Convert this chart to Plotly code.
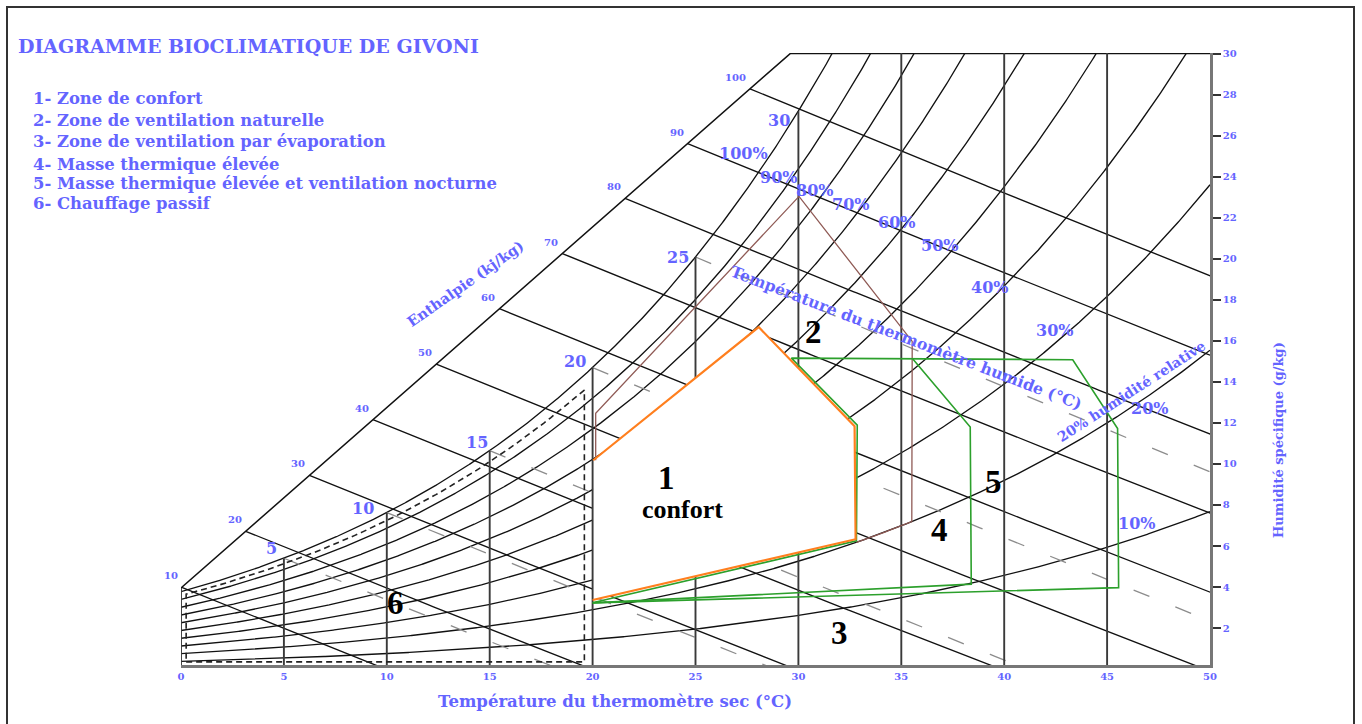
import numpy as np
import plotly.graph_objects as go

# ------------------------------------------------------------------ data
# saturation vapour pressure (kPa) at 0..50 degC (psychrometric table)
SAT_T = list(range(0, 51))
SAT_P = [0.6112, 0.6571, 0.7060, 0.7581, 0.8135, 0.8725, 0.9353, 1.0020, 1.0729, 1.1481,
         1.2280, 1.3127, 1.4026, 1.4979, 1.5989, 1.7057, 1.8188, 1.9385, 2.0651, 2.1988,
         2.3392, 2.4881, 2.6446, 2.8101, 2.9850, 3.1698, 3.3638, 3.5670, 3.7818, 4.0070,
         4.2460, 4.4953, 4.7578, 5.0335, 5.3229, 5.6263, 5.9447, 6.2784, 6.6280, 6.9944,
         7.3814, 7.7784, 8.2014, 8.6401, 9.1007, 9.5837, 10.0889, 10.6173, 11.1699, 11.7478,
         12.3513]
P_ATM = 101.325

DRY_BULB = [0, 5, 10, 15, 20, 25, 30, 35, 40, 45]
X_TICKS = [0, 5, 10, 15, 20, 25, 30, 35, 40, 45, 50]
Y_TICKS = [2, 4, 6, 8, 10, 12, 14, 16, 18, 20, 22, 24, 26, 28, 30]

RH_LEVELS = [0.1, 0.2, 0.3, 0.4, 0.5, 0.6, 0.7, 0.8, 0.9, 1.0]
RH_LABELS = ["10%", "20%", "30%", "40%", "50%", "60%", "70%", "80%", "90%", "100%"]
RH_LABEL_T = [46.42, 47.05, 42.45, 39.29, 36.86, 34.76, 32.54, 30.79, 29.01, 27.31]
RH_LABEL_W = [7.12, 12.72, 16.50, 18.60, 20.64, 21.78, 22.67, 23.32, 23.96, 25.15]

ENTHALPY_LEVELS = [10, 20, 30, 40, 50, 60, 70, 80, 90, 100]
ENTH_AXIS_T = [0.0, 29.6]
ENTH_AXIS_W = [3.95, 30.0]

WET_BULB_LINES = [5, 10, 15, 20, 25]
WET_BULB_LABELS = [5, 10, 15, 20, 25, 30]
WB_LABEL_T = [4.42, 8.82, 14.38, 19.14, 24.16, 29.04]
WB_LABEL_W = [5.89, 7.84, 11.04, 14.97, 20.04, 26.72]

# zones (dry-bulb degC, specific humidity g/kg)
ZONE1_T = [20.03, 28.07, 32.73, 32.78, 20.0]          # confort (orange)
ZONE1_W = [10.18, 16.67, 11.84, 6.33, 3.37]
ZONE2_T = [20.15, 20.15, 30.03, 35.53, 35.51]         # ventilation naturelle (brown)
ZONE2_W = [10.18, 12.47, 23.04, 15.97, 7.19]
ZONE2_RH = 0.20
ZONE2_T_END = 32.82
ZONE5_T = [20.0, 32.82, 32.86, 29.66, 43.33, 45.51, 45.56, 20.0]   # green outer
ZONE5_W = [3.23, 6.25, 11.89, 15.16, 15.08, 11.73, 3.97, 3.23]
ZONE4_T = [35.56, 38.35, 38.40, 20.0]                  # green inner
ZONE4_W = [15.11, 11.80, 4.14, 3.23]
ZONE6_T = [0.25, 19.6]                                 # chauffage passif (dashed)
ZONE6_W_MIN = 0.35
ZONE6_RH = 0.95

ZONE_NAMES = ["1", "2", "3", "4", "5", "6"]
ZONE_LABEL_T = [23.6, 30.74, 32.0, 36.86, 39.48, 10.44]
ZONE_LABEL_W = [9.3, 16.43, 1.78, 6.78, 9.13, 3.20]

LEGEND_LINES = ["1- Zone de confort",
                "2- Zone de ventilation naturelle",
                "3- Zone de ventilation par évaporation",
                "4- Masse thermique élevée",
                "5- Masse thermique élevée et ventilation nocturne",
                "6- Chauffage passif"]

Y_MIN, Y_MAX = 0.2, 30.03

BLUE = "#6464ff"
SERIF = "DejaVu Serif"
TIMES = "Liberation Serif"


# ------------------------------------------------------------------ psychrometrics
def psat(T):
    return np.exp(np.interp(T, SAT_T, np.log(SAT_P)))


def w_rh(T, rh):
    p = rh * psat(T)
    return 622.0 * p / (P_ATM - p)


def w_h(T, h):
    return 1000.0 * (h - 1.006 * T) / (2501.0 + 1.86 * T)


def w_wb(T, twb):
    ws = w_rh(twb, 1.0) / 1000.0
    return 1000.0 * ((2501.0 - 2.326 * twb) * ws - 1.006 * (T - twb)) / (2501.0 + 1.86 * T - 4.186 * twb)


slope = (ENTH_AXIS_W[1] - ENTH_AXIS_W[0]) / (ENTH_AXIS_T[1] - ENTH_AXIS_T[0])


def axis_w(T):
    return ENTH_AXIS_W[0] + slope * (T - ENTH_AXIS_T[0])


def axis_cross(h):
    lo, hi = -5.0, 40.0
    for _ in range(60):
        mid = 0.5 * (lo + hi)
        if w_h(mid, h) - axis_w(mid) > 0:
            lo = mid
        else:
            hi = mid
    return 0.5 * (lo + hi)


fig = go.Figure()


def line(x, y, color="#111111", width=1.35, dash=None, fill=None, fillcolor=None):
    fig.add_trace(go.Scatter(x=list(x), y=list(y), mode="lines",
                             line=dict(color=color, width=width, dash=dash),
                             fill=fill, fillcolor=fillcolor,
                             hoverinfo="skip", showlegend=False))


# relative humidity curves
Tg = np.linspace(0, 50, 1001)
for rh in RH_LEVELS:
    line(Tg, w_rh(Tg, rh))

# enthalpy lines
for h in ENTHALPY_LEVELS:
    t0 = axis_cross(h)
    tt = np.linspace(t0, 55, 200)
    line(tt, w_h(tt, h))

# enthalpy axis + top edge
line([ENTH_AXIS_T[0], ENTH_AXIS_T[1], 50], [ENTH_AXIS_W[0], ENTH_AXIS_W[1], ENTH_AXIS_W[1]],
     width=1.5)

# wet-bulb lines (dashed grey)
for twb in WET_BULB_LINES:
    tt = np.linspace(twb, 55, 200)
    line(tt, w_wb(tt, twb), color="#8c8c8c", width=1.3, dash="17px,28px")

# dry-bulb verticals right of the comfort zone edge
for T in DRY_BULB:
    if T > 20:
        top = min(w_rh(T, 1.0), 31.0)
        line([T, T], [0, top], color="#3a3a3a", width=1.9)

# comfort zone white fill
line(ZONE1_T + [ZONE1_T[0]], ZONE1_W + [ZONE1_W[0]], color="rgba(0,0,0,0)", width=0,
     fill="toself", fillcolor="white")

# dry-bulb verticals up to 20 degC
for T in DRY_BULB:
    if T <= 20:
        top = ENTH_AXIS_W[0] if T == 0 else w_rh(T, 1.0)
        line([T, T], [0, top], color="#3a3a3a", width=1.9)

# zone 6: chauffage passif (dashed)
t6 = np.linspace(ZONE6_T[1], ZONE6_T[0], 60)
z6x = [ZONE6_T[0], ZONE6_T[1]] + list(t6) + [ZONE6_T[0]]
z6y = [ZONE6_W_MIN, ZONE6_W_MIN] + list(w_rh(t6, ZONE6_RH)) + [ZONE6_W_MIN]
line(z6x, z6y, color="#222222", width=1.6, dash="6px,4px")

# zone 2: ventilation naturelle (brown)
t2 = np.linspace(ZONE2_T[-1], ZONE2_T_END, 20)
line(ZONE2_T + list(t2), ZONE2_W + list(w_rh(t2, ZONE2_RH)), color="#8f5a55", width=1.3)

# zones 4/5 (green)
line(ZONE5_T, ZONE5_W, color="#2ca02c", width=1.6)
line(ZONE4_T, ZONE4_W, color="#2ca02c", width=1.6)

# zone 1 confort (orange)
line(ZONE1_T, ZONE1_W, color="#ff7f1e", width=2.2)

# ------------------------------------------------------------------ annotations
ann = []


def px(x):
    return (x - 181.0) / 1029.0


def py(y):
    return (665.0 - y) / 612.0


def txt(text, x, y, size, color=BLUE, family=SERIF, ref="data", angle=0, xanchor="center",
        yanchor="middle", xshift=0, yshift=0):
    d = dict(text=text, x=x, y=y, showarrow=False, textangle=angle,
             font=dict(family=family, size=size, color=color),
             xanchor=xanchor, yanchor=yanchor, xshift=xshift, yshift=yshift)
    if ref == "data":
        d.update(xref="x", yref="y")
    else:
        d.update(xref="paper", yref="paper")
    ann.append(d)


# title and legend
txt("<b>DIAGRAMME BIOCLIMATIQUE DE GIVONI</b>", px(16), py(46), 19, ref="paper", xanchor="left")
for i, s in enumerate(LEGEND_LINES):
    ly = [98.5, 120, 141.5, 164, 183.5, 203.5][i]
    txt("<b>" + s + "</b>", px(31), py(ly), 16.4, ref="paper", xanchor="left")

# axis titles
txt("<b>Température du thermomètre sec (°C)</b>", px(615), py(701), 16.5, ref="paper")
txt("<b>Humidité spécifique (g/kg)</b>", px(1278), py(440), 13, ref="paper", angle=-90)
txt("<b>Enthalpie (kj/kg)</b>", 13.8, 18.8, 14.5, angle=-35)
txt("<b>Température du thermomètre humide (°C)</b>", 35.21, 16.15, 15.7, angle=21)
txt("<b>20% humidité relative</b>", 46.2, 13.54, 14, angle=-33)

# enthalpy labels
for h in ENTHALPY_LEVELS:
    t0 = axis_cross(h)
    txt("<b>%d</b>" % h, t0, axis_w(t0), 10, xanchor="right", yanchor="bottom", xshift=-2, yshift=4)

# wet-bulb labels
for t, x, y in zip(WET_BULB_LABELS, WB_LABEL_T, WB_LABEL_W):
    txt("<b>%d</b>" % t, x, y, 16)

# RH labels
for s, x, y in zip(RH_LABELS, RH_LABEL_T, RH_LABEL_W):
    txt("<b>" + s + "</b>", x, y, 16)

# zone numbers
for s, x, y in zip(ZONE_NAMES, ZONE_LABEL_T, ZONE_LABEL_W):
    txt("<b>" + s + "</b>", x, y, 33, color="black", family=TIMES)
txt("<b>confort</b>", 24.38, 7.78, 26, color="black", family=TIMES)

fig.update_layout(
    width=1362, height=724,
    margin=dict(l=181, r=152, t=53, b=59),
    paper_bgcolor="white", plot_bgcolor="white",
    showlegend=False,
    annotations=ann,
    shapes=[dict(type="rect", xref="paper", yref="paper",
                 x0=px(7), x1=px(1354), y0=py(740), y1=py(7),
                 line=dict(color="#333333", width=2), layer="below")],
    xaxis=dict(range=[0, 50], showgrid=False, zeroline=False, showline=True,
               linecolor="#777777", linewidth=2.5, ticks="", tickvals=X_TICKS,
               tickfont=dict(family=SERIF, size=10, color=BLUE, weight="bold")),
    yaxis=dict(range=[Y_MIN, Y_MAX], side="right", showgrid=False, zeroline=False,
               showline=True, linecolor="#777777", linewidth=2.5, ticks="outside",
               ticklen=8, tickwidth=1.5, tickcolor="#333333", tickvals=Y_TICKS,
               tickfont=dict(family=SERIF, size=10, color=BLUE, weight="bold")),
)

fig.write_html("out.html")
